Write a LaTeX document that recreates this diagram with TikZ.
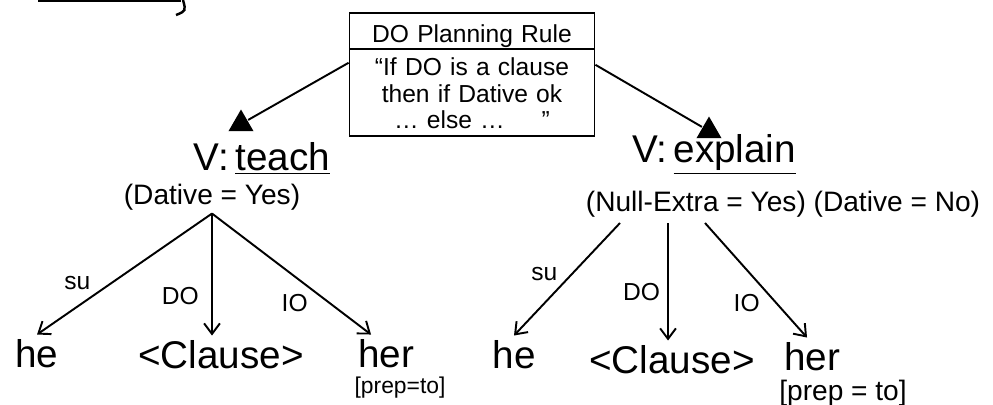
\documentclass[tikz,border=0pt]{standalone}
\usepackage{fontspec}
\setmainfont{Liberation Sans}
\usetikzlibrary{shapes,arrows.meta,positioning}
\tikzset{
planbox/.style = {draw, rectangle split, rectangle split parts=2, text width=4.7cm, inner xsep=0.1cm, inner ysep=0pt, align=center, font=\fontsize{14}{15}\selectfont},
tri/.style = {regular polygon, regular polygon sides=3, fill=black, minimum size=0.58cm, inner sep=0pt},
word/.style = {font=\fontsize{22}{26}\selectfont, inner sep=2pt, anchor=base},
feat/.style = {font=\fontsize{16}{19}\selectfont, inner sep=1pt, anchor=base},
prep/.style = {font=\fontsize{13}{15}\selectfont, inner sep=1pt, anchor=base},
rel/.style = {font=\fontsize{14}{16}\selectfont, inner sep=2pt}
}
\begin{document}
\begin{tikzpicture}[x=0.02cm, y=-0.02cm, line width=1.1pt, >={Straight Barb[length=6pt,width=9pt]}]
  \useasboundingbox (0,0) rectangle (993,405);
  % cut-off stroke at the top left
  \draw[line width=1.4pt] (38,1) -- (181,1);
  \draw[line width=1.4pt] (183,0) .. controls (186,11) .. (176,15);

  \node[planbox, anchor=north] (plan) at (472,12)
    {\rule[-0.1cm]{0pt}{0.68cm}DO Planning Rule
     \nodepart{two}\rule{0pt}{0.52cm}``If DO is a clause\\
     then if Dative ok\\
     \dots\ else \dots\hspace{1.5em}''\rule[-0.12cm]{0pt}{0.12cm}};

  \node[tri] (triL) at (241,124) {};
  \node[tri] (triR) at (709,131) {};
  \draw ([yshift=0.23cm]plan.west) -- (triL);
  \draw ([yshift=0.19cm]plan.east) -- (triR);

  % teach
  \node[word] (verbL) at (262,171) {V:\,\underline{teach}};
  \node[feat] (featL) at (212,205) {(Dative = Yes)};
  \node[word] (heL) at (37,367) {he};
  \node[word] (clauseL) at (221,368) {<Clause>};
  \node[word] (herL) at (386,367) {her};
  \node[prep] (prepL) at (400,393) {[prep=to]};

  \draw[->] (featL.south) -- node[rel, pos=.67, anchor=south east] {su} (heL.north);
  \draw[->] (featL.south) -- node[rel, pos=.68, left=5pt] {DO} (featL.south |- clauseL.north);
  \draw[->] (featL.south) -- node[rel, pos=.63, anchor=north east] {IO} ([xshift=-0.3cm]herL.north);

  % explain
  \node[word] (verbR) at (714,163) {V:\,\underline{explain}};
  \node[feat] (featR) at (783,212) {(Null-Extra = Yes) (Dative = No)};
  \node[word] (heR) at (514,368) {he};
  \node[word] (clauseR) at (672,373) {<Clause>};
  \node[word] (herR) at (812,370) {her};
  \node[feat] (prepR) at (843,400) {[prep = to]};

  \coordinate (forkR1) at (620,223);
  \coordinate (forkR2) at (668,223);
  \coordinate (forkR3) at (705,223);
  \draw[->] (forkR1) -- node[rel, pos=.55, anchor=south east] {su} (heR.north);
  \draw[->] (forkR2) -- node[rel, pos=.59, left=2pt] {DO} (forkR2 |- clauseR.north);
  \draw[->] (forkR3) -- node[rel, pos=.58, anchor=north east] {IO} ([xshift=-0.1cm]herR.north);
\end{tikzpicture}
\end{document}
